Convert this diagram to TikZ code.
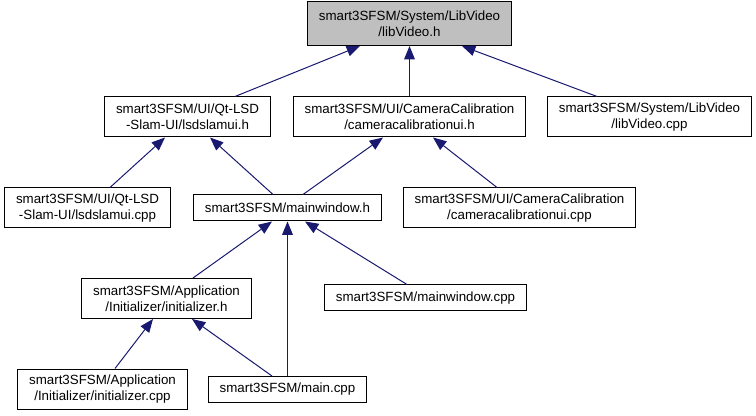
\documentclass[tikz,border=0pt]{standalone}
\usepackage{fontspec}
\setmainfont{Liberation Sans}
\usepackage{xcolor}
\usetikzlibrary{arrows.meta,calc}
\definecolor{depblue}{HTML}{191970}
\definecolor{rootgray}{HTML}{BFBFBF}

\begin{document}
\begin{tikzpicture}[
  x=0.75pt,y=-0.75pt,
  file/.style={draw=black,fill=white,line width=0.75pt,align=center,
    font=\fontsize{10}{12}\selectfont,inner xsep=8.4pt,inner ysep=0pt,
    minimum height=30pt},
  single/.style={file,minimum height=19.5pt},
  root/.style={file,fill=rootgray,minimum height=33pt},
  dep/.style={-{Triangle[length=10pt,width=8pt]},depblue,line width=0.75pt},
]
\useasboundingbox (0,0) rectangle (756,416);

\node[root] (libh) at (409.5,23.5) {smart3SFSM/System/LibVideo\\/libVideo.h};
\node[file] (lsdh) at (187.5,117) {smart3SFSM/UI/Qt-LSD\\-Slam-UI/lsdslamui.h};
\node[file] (camh) at (409.5,117) {smart3SFSM/UI/CameraCalibration\\/cameracalibrationui.h};
\node[file] (libcpp) at (649.5,117) {smart3SFSM/System/LibVideo\\/libVideo.cpp};
\node[file] (lsdcpp) at (87.5,208) {smart3SFSM/UI/Qt-LSD\\-Slam-UI/lsdslamui.cpp};
\node[single] (mwh) at (287.5,208) {smart3SFSM/mainwindow.h};
\node[file] (camcpp) at (519.5,208) {smart3SFSM/UI/CameraCalibration\\/cameracalibrationui.cpp};
\node[file] (inith) at (166.5,298.5) {smart3SFSM/Application\\/Initializer/initializer.h};
\node[single] (mwcpp) at (425.5,298) {smart3SFSM/mainwindow.cpp};
\node[file] (initcpp) at (102.5,389) {smart3SFSM/Application\\/Initializer/initializer.cpp};
\node[single] (maincpp) at (287.5,389.5) {smart3SFSM/main.cpp};

% includes: from including file up to included header
\draw[dep] ($(lsdh.north)+(47.5,0)$) -- ($(libh.south)+(-49.5,0)$);
\draw[dep] (camh.north) -- (libh.south);
\draw[dep] ($(libcpp.north)+(-52.5,0)$) -- ($(libh.south)+(52.5,0)$);
\draw[dep] ($(lsdcpp.north)+(22.5,0)$) -- ($(lsdh.south)+(-22.5,0)$);
\draw[dep] ($(mwh.north)+(-14.5,0)$) -- ($(lsdh.south)+(22.5,0)$);
\draw[dep] ($(mwh.north)+(15.5,0)$) -- ($(camh.south)+(-26.5,0)$);
\draw[dep] ($(camcpp.north)+(-22.5,0)$) -- ($(camh.south)+(23.5,0)$);
\draw[dep] ($(inith.north)+(26.5,0)$) -- ($(mwh.south)+(-15.5,0)$);
\draw[dep] (maincpp.north) -- (mwh.south);
\draw[dep] ($(mwcpp.north)+(-18.5,0)$) -- ($(mwh.south)+(17.5,0)$);
\draw[dep] ($(initcpp.north)+(12.5,0)$) -- ($(inith.south)+(-13.5,0)$);
\draw[dep] ($(maincpp.north)+(-15.5,0)$) -- ($(inith.south)+(25.5,0)$);
\end{tikzpicture}
\end{document}
